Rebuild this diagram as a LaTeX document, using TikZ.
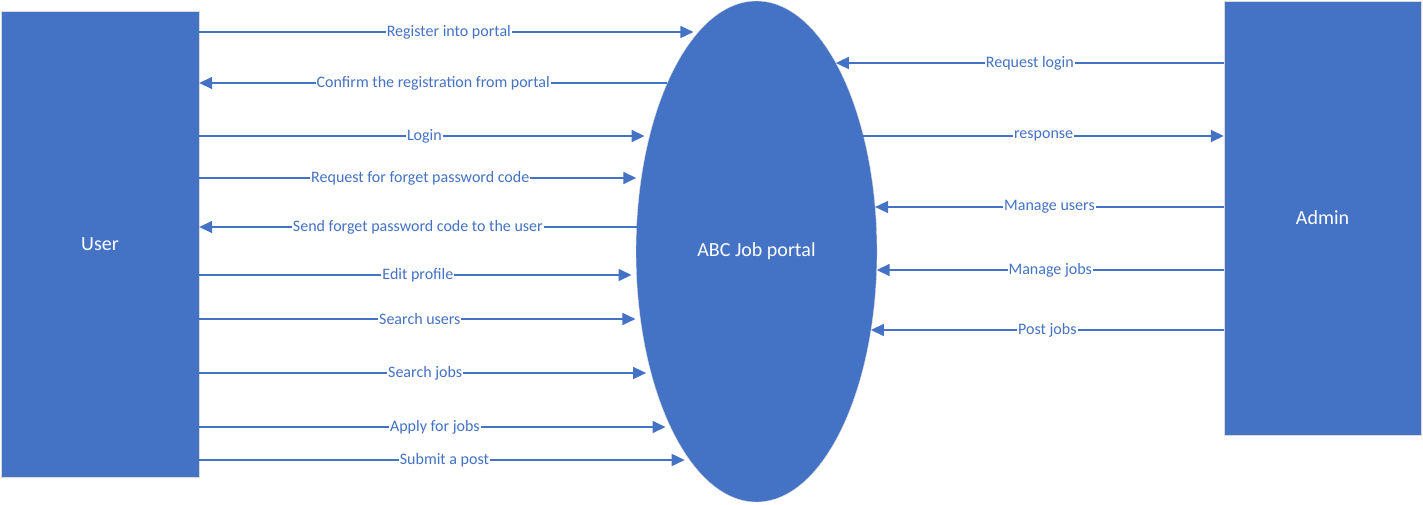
\documentclass[tikz,border=0pt]{standalone}
\usepackage{fontspec}
\setmainfont{Carlito}
\usepackage{xcolor}
\usetikzlibrary{
  arrows.meta,
  calc,
  shapes.geometric
}
\definecolor{dfdblue}{HTML}{4472C4}

\begin{document}
\begin{tikzpicture}[
    x=1pt, y=-1pt,
    every node/.style={font=\fontsize{16}{19}\selectfont},
    entity/.style={
      draw=black!15,
      fill=dfdblue,
      text=white,
      inner sep=0pt,
      font=\fontsize{20}{24}\selectfont
    },
    proc/.style={
      ellipse,
      draw=black!15,
      fill=dfdblue,
      text=white,
      inner sep=0pt,
      minimum width=241pt,
      minimum height=501pt,
      font=\fontsize{20}{24}\selectfont
    },
    flow/.style={draw=dfdblue, line width=1.6pt, -{Triangle[length=13pt, width=12pt]}},
    lbl/.style={fill=white, text=dfdblue, inner sep=1pt}
  ]
    \useasboundingbox (0,0) rectangle (1423,504);

    % external entities and the process
    \node[entity, minimum width=198pt, minimum height=466pt] (user) at (100,244) {User};
    \node[entity, minimum width=197pt, minimum height=434pt] (admin) at (1322.5,218) {Admin};
    \node[proc] (portal) at (756.5,251.5) {ABC Job portal};

    % user -> portal
    \foreach \y/\txt in {32/Register into portal, 136/Login,
        178/Request for forget password code, 275/Edit profile,
        319/Search users, 373/Search jobs, 427/Apply for jobs,
        460/Submit a post} {
      \pgfmathsetmacro{\dx}{120.5*sqrt(1-((\y-251.5)/250.5)^2)}
      \draw[flow, shorten >=5pt] (user.east |- 0,\y) -- node[lbl] {\txt}
        ($(portal.center)+(-\dx,\y-251.5)$);
    }

    % portal -> user
    \foreach \y/\txt in {83/Confirm the registration from portal,
        227/Send forget password code to the user} {
      \pgfmathsetmacro{\dx}{120.5*sqrt(1-((\y-251.5)/250.5)^2)}
      \draw[flow] ($(portal.center)+(-\dx,\y-251.5)$) -- node[lbl] {\txt}
        (user.east |- 0,\y);
    }

    % admin -> portal
    \foreach \y/\txt in {63/Request login, 207/Manage users,
        270/Manage jobs, 330/Post jobs} {
      \pgfmathsetmacro{\dx}{120.5*sqrt(1-((\y-251.5)/250.5)^2)}
      \draw[flow] (admin.west |- 0,\y) -- node[lbl] {\txt}
        ($(portal.center)+(\dx,\y-251.5)$);
    }

    % portal -> admin
    \pgfmathsetmacro{\dx}{120.5*sqrt(1-((136-251.5)/250.5)^2)}
    \draw[flow] ($(portal.center)+(\dx,136-251.5)$) -- node[lbl] {response}
      (admin.west |- 0,136);

  \end{tikzpicture}
\end{document}
